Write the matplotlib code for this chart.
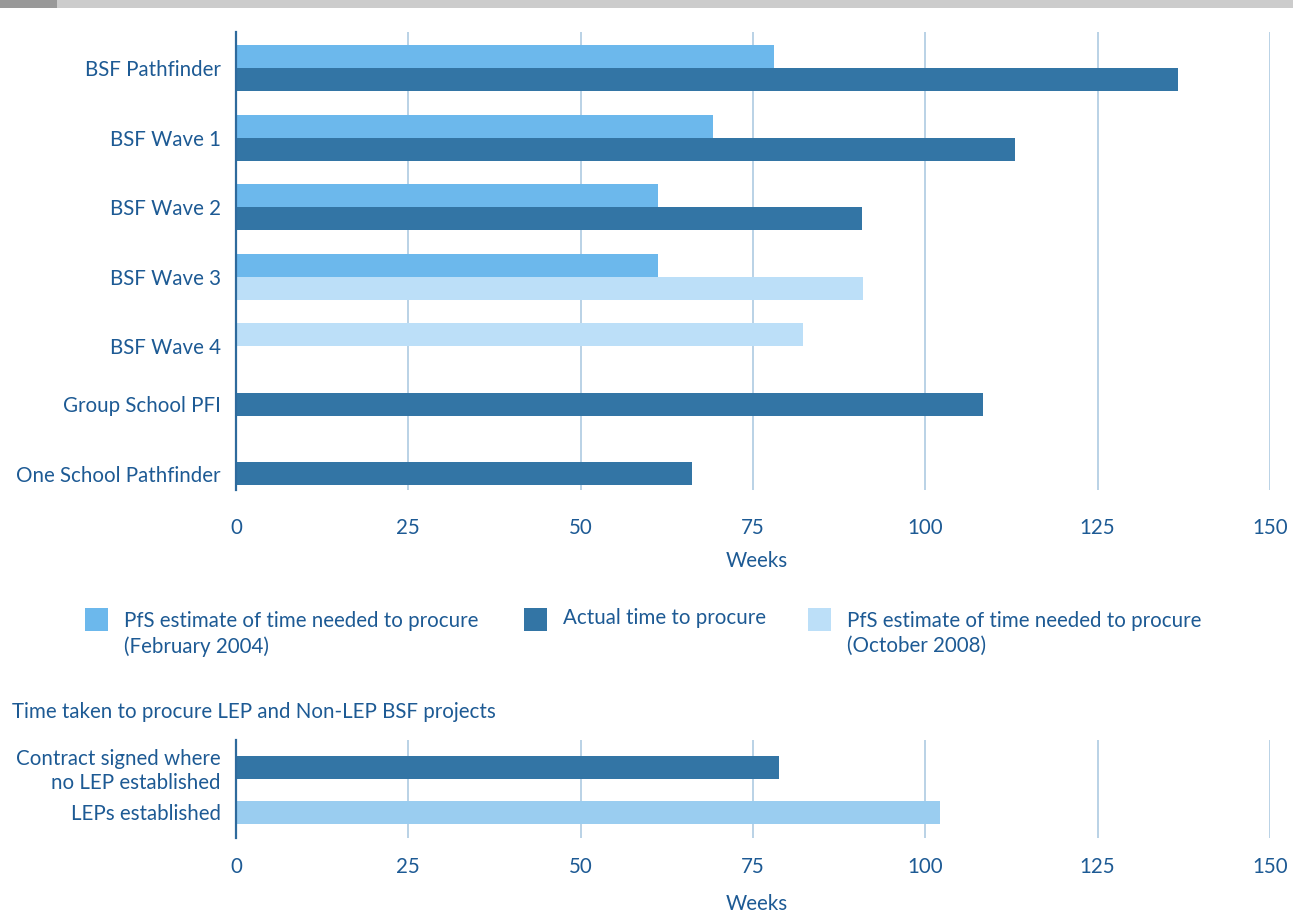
import matplotlib
matplotlib.use('Agg')
import matplotlib.pyplot as plt
from matplotlib.patches import Rectangle
import numpy as np

# procurement times in weeks (None = no bar)
categories = ['BSF Pathfinder', 'BSF Wave 1', 'BSF Wave 2', 'BSF Wave 3',
              'BSF Wave 4', 'Group School PFI', 'One School Pathfinder']
est_2004 = [78, 69.2, 61.2, 61.2, None, None, None]
actual = [136.7, 113, 90.8, None, None, 108.3, 66.1]
est_2008 = [None, None, None, 91, 82.3, None, None]

lep_labels = ['Contract signed where\nno LEP established', 'LEPs established']
lep_weeks = [78.8, 102.1]

x_ticks = [0, 25, 50, 75, 100, 125, 150]

C_LIGHT = '#6cb8ec'
C_DARK = '#3375a5'
C_PALE = '#bcdff8'
C_LEP = '#9acdf0'
C_TEXT = '#1d5a94'
C_GRID = '#aecbe2'
C_SPINE = '#2e6a9c'
FS = 14.8

plt.rcParams['font.family'] = ['Lato', 'DejaVu Sans']
plt.rcParams['font.size'] = FS

W, H = 1293, 914
fig = plt.figure(figsize=(W / 100, H / 100), dpi=100)


def fig_box(x0, y0, x1, y1):
    # pixel box (top-left origin) -> figure fraction rect
    return [x0 / W, 1 - y1 / H, (x1 - x0) / W, (y1 - y0) / H]


def style_axis(ax, pad):
    ax.set_xlim(0, 150)
    ax.set_xticks(x_ticks)
    for t in x_ticks[1:]:
        ax.axvline(t, color=C_GRID, lw=1.2, zorder=0)
    for s in ['top', 'right', 'bottom']:
        ax.spines[s].set_visible(False)
    ax.spines['left'].set_color(C_SPINE)
    ax.spines['left'].set_linewidth(1.6)
    ax.tick_params(axis='both', length=0, colors=C_TEXT, labelsize=FS)
    ax.tick_params(axis='x', pad=pad)
    ax.tick_params(axis='y', pad=11)


# header strip
fig.add_artist(Rectangle((0, 1 - 8 / H), 1, 8 / H, transform=fig.transFigure,
                         color='#cccccc', lw=0))
fig.add_artist(Rectangle((0, 1 - 8 / H), 57 / W, 8 / H, transform=fig.transFigure,
                         color='#999999', lw=0))

# main chart
ax = fig.add_axes(fig_box(236, 32, 1270, 490))
h = 0.332
tick_pos = []
for i, name in enumerate(categories):
    slot = 0
    for vals, col in [(est_2004, C_LIGHT), (actual, C_DARK), (est_2008, C_PALE)]:
        v = vals[i]
        if v is None:
            continue
        ax.barh(i + (slot + 0.5) * h, v, height=h, color=col, lw=0, zorder=2)
        slot += 1
    # label sits between the pair, or on a lone 'actual' bar
    if est_2004[i] is None and est_2008[i] is None:
        tick_pos.append(i + 0.5 * h)
    else:
        tick_pos.append(i + h)
ax.set_yticks(tick_pos)
ax.set_yticklabels(categories)
ax.set_ylim(6.40, -0.19)
style_axis(ax, 20)
fig.text(757 / W, 1 - 561 / H, 'Weeks', ha='center', va='center',
         color=C_TEXT, fontsize=FS)

# legend
legend_items = [
    (85, 'PfS estimate of time needed to procure\n(February 2004)', C_LIGHT, 611),
    (524, 'Actual time to procure', C_DARK, 608),
    (808, 'PfS estimate of time needed to procure\n(October 2008)', C_PALE, 611),
]
for lx, txt, col, ty in legend_items:
    fig.add_artist(Rectangle((lx / W, 1 - 631 / H), 23 / W, 23 / H,
                             transform=fig.transFigure, color=col, lw=0))
    fig.text((lx + 39) / W, 1 - ty / H, txt, ha='left', va='top',
             color=C_TEXT, fontsize=FS, linespacing=1.3)

# LEP vs non-LEP chart
fig.text(12 / W, 1 - 712 / H, 'Time taken to procure LEP and Non-LEP BSF projects',
         ha='left', va='center', color=C_TEXT, fontsize=FS)
ax2 = fig.add_axes(fig_box(236, 740, 1270, 838))
ax2.barh([0, 1], lep_weeks, height=0.51, color=[C_DARK, C_LEP], lw=0, zorder=2)
ax2.set_yticks([0, 1])
ax2.set_yticklabels(lep_labels, linespacing=1.25)
ax2.set_ylim(1.567, -0.611)
style_axis(ax2, 14)
fig.text(757 / W, 1 - 904 / H, 'Weeks', ha='center', va='center',
         color=C_TEXT, fontsize=FS)

fig.savefig('out.png', dpi=100)
